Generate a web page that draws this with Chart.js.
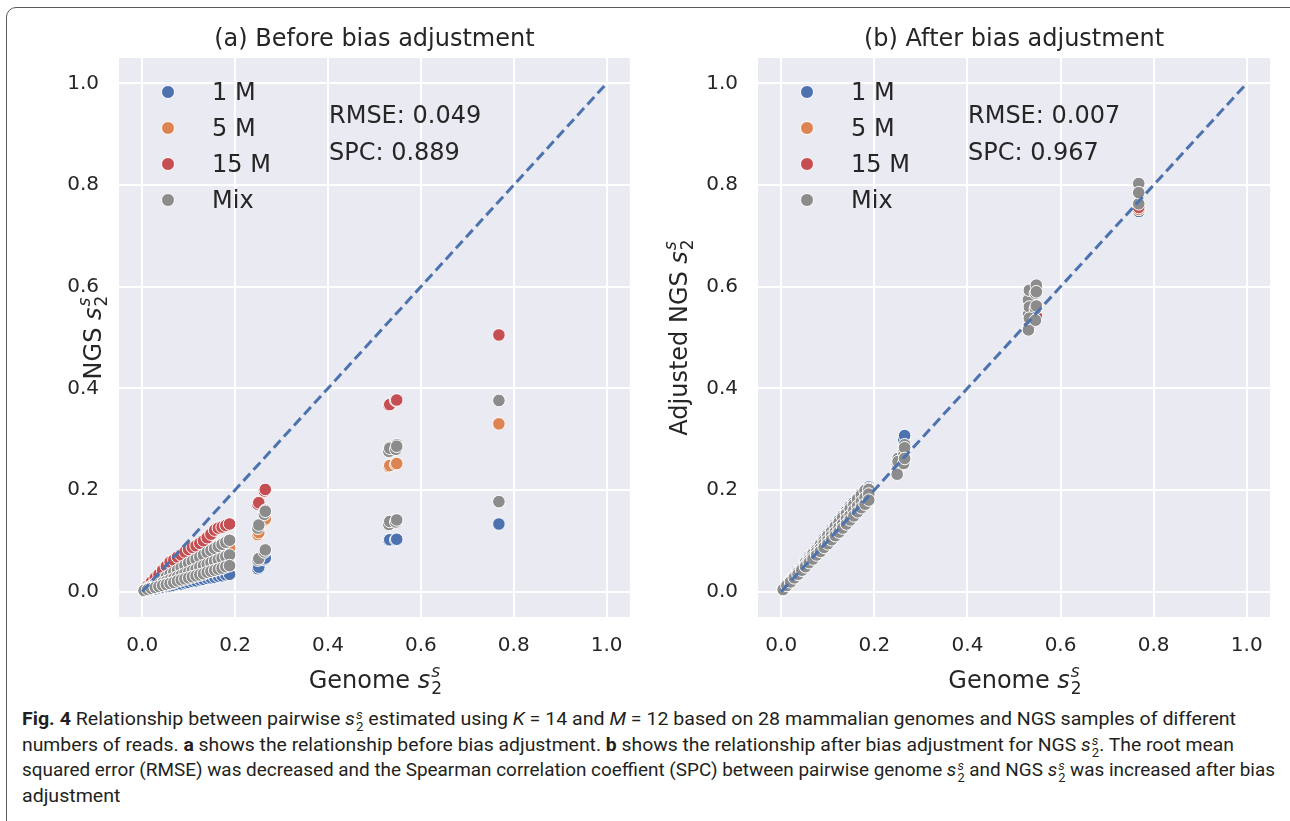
<!DOCTYPE html>
<html>
<head>
<meta charset="utf-8">
<script src="https://cdn.jsdelivr.net/npm/chart.js@4.4.0/dist/chart.umd.min.js"></script>
<style>
  html, body { margin: 0; padding: 0; background: #fff; overflow: hidden; }
  #figura { position: relative; width: 1290px; height: 821px; overflow: hidden; }
  #marco { position: absolute; left: 6px; top: 7px; width: 1310px; height: 850px; border: 1.5px solid #5a5a5a; border-radius: 10px; box-sizing: border-box; }
  canvas { position: absolute; top: 0; }
  #pie { position: absolute; left: 22px; top: 706px; font-family: "Liberation Sans Narrow", "Roboto", sans-serif; font-size: 18px; color: #231f20; }
  .linea { white-space: nowrap; height: 25.5px; line-height: 25.5px; transform-origin: left center; width: max-content; }
  .m { display: inline-block; font-size: 0.68em; line-height: 0.95em; vertical-align: -0.5em; margin-left: 1px; }
  .m span { display: block; }
</style>
</head>
<body>
<div id="figura">
  <div id="marco"></div>
  <canvas id="grafica-a" width="640" height="700" style="left:0"></canvas>
  <canvas id="grafica-b" width="650" height="700" style="left:640px"></canvas>
  <div id="pie">
    <div class="linea"><b>Fig. 4</b> Relationship between pairwise <i>s</i><span class="m"><span><i>s</i></span><span>2</span></span> estimated using <i>K</i> = 14 and <i>M</i> = 12 based on 28 mammalian genomes and NGS samples of different</div>
    <div class="linea">numbers of reads. <b>a</b> shows the relationship before bias adjustment. <b>b</b> shows the relationship after bias adjustment for NGS <i>s</i><span class="m"><span><i>s</i></span><span>2</span></span>. The root mean</div>
    <div class="linea">squared error (RMSE) was decreased and the Spearman correlation coeffient (SPC) between pairwise genome <i>s</i><span class="m"><span><i>s</i></span><span>2</span></span> and NGS <i>s</i><span class="m"><span><i>s</i></span><span>2</span></span> was increased after bias</div>
    <div class="linea">adjustment</div>
  </div>
</div>
<script>
// valores de genome s2 (eje x), compartidos por todas las muestras
const genomeX = [0.004, 0.012, 0.020, 0.028, 0.036, 0.044, 0.052, 0.060, 0.068, 0.076, 0.084, 0.092,
                 0.100, 0.108, 0.116, 0.124, 0.132, 0.140, 0.148, 0.156, 0.164, 0.172, 0.180, 0.188,
                 0.249, 0.251, 0.263, 0.265, 0.531, 0.533, 0.546, 0.548, 0.768];

// (a) antes del ajuste
const antes1M = [0.001, 0.003, 0.004, 0.005, 0.007, 0.008, 0.010, 0.011, 0.012, 0.014, 0.015, 0.017,
                 0.018, 0.020, 0.021, 0.023, 0.024, 0.026, 0.027, 0.028, 0.030, 0.031, 0.033, 0.034,
                 0.045, 0.048, 0.063, 0.066, 0.101, 0.102, 0.102, 0.103, 0.133];
const antes5M = [0.002, 0.006, 0.009, 0.013, 0.016, 0.020, 0.024, 0.027, 0.031, 0.034, 0.038, 0.042,
                 0.045, 0.049, 0.053, 0.056, 0.060, 0.063, 0.067, 0.071, 0.074, 0.078, 0.082, 0.086,
                 0.112, 0.116, 0.140, 0.143, 0.246, 0.248, 0.250, 0.252, 0.330];
const antes15M = [0.004, 0.011, 0.019, 0.027, 0.034, 0.042, 0.050, 0.058, 0.062, 0.068, 0.072, 0.078,
                  0.083, 0.087, 0.090, 0.095, 0.100, 0.106, 0.113, 0.121, 0.125, 0.127, 0.130, 0.133,
                  0.172, 0.175, 0.198, 0.201, 0.367, 0.368, 0.376, 0.377, 0.505];
const antesMixA = [0.003, 0.007, 0.011, 0.016, 0.020, 0.025, 0.029, 0.034, 0.038, 0.042, 0.047, 0.051,
                   0.056, 0.060, 0.064, 0.068, 0.072, 0.077, 0.081, 0.085, 0.089, 0.093, 0.097, 0.101,
                   0.127, 0.130, 0.155, 0.160, 0.280, 0.284, 0.285, 0.289, 0.378];
const antesMixB = [0.002, 0.004, 0.006, 0.008, 0.010, 0.012, 0.014, 0.016, 0.018, 0.021, 0.023, 0.025,
                   0.027, 0.029, 0.031, 0.033, 0.035, 0.038, 0.040, 0.042, 0.044, 0.046, 0.049, 0.051,
                   0.062, 0.065, 0.078, 0.082, 0.132, 0.138, 0.137, 0.141, 0.177];
const antesMixC = [0.002, 0.005, 0.008, 0.011, 0.014, 0.017, 0.020, 0.023, 0.026, 0.029, 0.032, 0.035,
                   0.038, 0.041, 0.044, 0.048, 0.051, 0.054, 0.057, 0.060, 0.063, 0.066, 0.069, 0.072,
                   0.125, 0.131, 0.152, 0.158, 0.276, 0.282, 0.280, 0.286, 0.376];

// (b) despues del ajuste
const despues1M = [0.005, 0.014, 0.023, 0.032, 0.041, 0.050, 0.059, 0.068, 0.077, 0.086, 0.095, 0.104,
                   0.113, 0.122, 0.131, 0.140, 0.149, 0.158, 0.167, 0.175, 0.184, 0.192, 0.200, 0.206,
                   0.245, 0.252, 0.300, 0.307, 0.525, 0.530, 0.545, 0.552, 0.748];
const despues5M = [0.004, 0.012, 0.021, 0.029, 0.038, 0.046, 0.055, 0.064, 0.073, 0.082, 0.090, 0.099,
                   0.108, 0.117, 0.126, 0.134, 0.143, 0.152, 0.160, 0.169, 0.178, 0.186, 0.194, 0.200,
                   0.240, 0.244, 0.262, 0.268, 0.520, 0.527, 0.540, 0.547, 0.752];
const despues15M = [0.005, 0.013, 0.022, 0.031, 0.040, 0.048, 0.057, 0.066, 0.075, 0.083, 0.092, 0.101,
                    0.110, 0.119, 0.128, 0.136, 0.145, 0.154, 0.163, 0.171, 0.180, 0.188, 0.197, 0.203,
                    0.236, 0.242, 0.258, 0.262, 0.516, 0.522, 0.536, 0.542, 0.756];
const despuesMixA = [0.003, 0.012, 0.022, 0.030, 0.039, 0.047, 0.057, 0.064, 0.074, 0.082, 0.092, 0.100,
                     0.110, 0.118, 0.128, 0.136, 0.146, 0.153, 0.163, 0.171, 0.182, 0.190, 0.199, 0.201,
                     0.250, 0.262, 0.276, 0.289, 0.574, 0.593, 0.587, 0.603, 0.803];
const despuesMixB = [0.004, 0.012, 0.019, 0.027, 0.034, 0.042, 0.049, 0.057, 0.064, 0.072, 0.079, 0.087,
                     0.094, 0.102, 0.110, 0.117, 0.125, 0.133, 0.141, 0.149, 0.157, 0.165, 0.172, 0.180,
                     0.231, 0.256, 0.252, 0.262, 0.515, 0.538, 0.534, 0.562, 0.785];
const despuesMixC = [0.005, 0.014, 0.020, 0.029, 0.037, 0.045, 0.052, 0.061, 0.068, 0.078, 0.085, 0.094,
                     0.101, 0.110, 0.117, 0.126, 0.133, 0.143, 0.150, 0.160, 0.168, 0.177, 0.185, 0.192,
                     0.241, 0.247, 0.268, 0.283, 0.545, 0.560, 0.556, 0.590, 0.763];

const nombres = ['1 M', '5 M', '15 M', 'Mix'];
const colores = ['#4C72B0', '#DD8452', '#C44E52', '#8C8C8C'];
const marcas = [0, 0.2, 0.4, 0.6, 0.8, 1.0];
const diagonal = [0, 1];

const TEXTO = '#262626';
const FUENTE = '"DejaVu Sans"';

function puntos(ys) {
    return genomeX.map((x, i) => ({ x: x, y: ys[i] }));
}

// etiqueta de eje con s^s_2
function etiqueta(ctx, texto, x, y, rotar) {
    ctx.save();
    ctx.translate(x, y);
    if (rotar) ctx.rotate(-Math.PI / 2);
    ctx.textAlign = 'left';
    ctx.textBaseline = 'alphabetic';
    ctx.fillStyle = TEXTO;
    ctx.font = '24px ' + FUENTE;
    const w1 = ctx.measureText(texto + ' ').width;
    ctx.font = 'italic 24px ' + FUENTE;
    const w2 = ctx.measureText('s').width;
    ctx.font = 'italic 17px ' + FUENTE;
    const w3 = ctx.measureText('s').width;
    let px = -(w1 + w2 + 1 + w3) / 2;
    ctx.font = '24px ' + FUENTE;
    ctx.fillText(texto + ' ', px, 0);
    px += w1;
    ctx.font = 'italic 24px ' + FUENTE;
    ctx.fillText('s', px, 0);
    px += w2 + 1;
    ctx.font = 'italic 17px ' + FUENTE;
    ctx.fillText('s', px, -11);
    ctx.font = '17px ' + FUENTE;
    ctx.fillText('2', px, 6);
    ctx.restore();
}

const decoracion = {
    id: 'decoracion',
    beforeDraw(chart, args, o) {
        const a = chart.chartArea, ctx = chart.ctx;
        ctx.save();
        ctx.fillStyle = '#EAEAF2';
        ctx.fillRect(a.left, a.top, a.right - a.left, a.bottom - a.top);
        ctx.restore();
    },
    afterDraw(chart, args, o) {
        const a = chart.chartArea, ctx = chart.ctx;
        ctx.save();
        ctx.fillStyle = TEXTO;
        ctx.font = '24px ' + FUENTE;
        ctx.textAlign = 'center';
        ctx.textBaseline = 'middle';
        ctx.fillText(o.titulo, (a.left + a.right) / 2, a.top - 18);

        // leyenda dentro del area
        ctx.textAlign = 'left';
        nombres.forEach((n, i) => {
            const y = a.top + 34 + i * 36;
            ctx.beginPath();
            ctx.arc(a.left + 49, y, 6.5, 0, Math.PI * 2);
            ctx.fillStyle = colores[i];
            ctx.fill();
            ctx.strokeStyle = '#fff';
            ctx.lineWidth = 1;
            ctx.stroke();
            ctx.fillStyle = TEXTO;
            ctx.fillText(n, a.left + 93, y + 2);
        });
        ctx.fillText('RMSE: ' + o.rmse, a.left + 210, a.top + 59);
        ctx.fillText('SPC: ' + o.spc, a.left + 210, a.top + 96);

        etiqueta(ctx, 'Genome', (a.left + a.right) / 2, a.bottom + 71, false);
        etiqueta(ctx, o.ylabel, a.left - o.yoff, (a.top + a.bottom) / 2 + 1, true);
        ctx.restore();
    }
};

function crearGrafica(id, serie1, serie2, serie3, mixA, mixB, mixC, opciones, anchoY, padDer) {
    const ctx = document.getElementById(id).getContext('2d');
    const punto = { pointRadius: 6.3, pointHoverRadius: 6.3, pointBorderColor: '#fff', pointBorderWidth: 1 };
    new Chart(ctx, {
        type: 'scatter',
        data: {
            datasets: [
                { type: 'line', label: 'y = x', data: diagonal.map(v => ({ x: v, y: v })),
                  borderColor: '#4C72B0', borderWidth: 3, borderDash: [10, 5], pointRadius: 0, fill: false, order: 0 },
                Object.assign({ label: nombres[3], data: puntos(mixA).concat(puntos(mixC), puntos(mixB)), backgroundColor: colores[3], order: 1 }, punto),
                Object.assign({ label: nombres[2], data: puntos(serie3), backgroundColor: colores[2], order: 2 }, punto),
                Object.assign({ label: nombres[1], data: puntos(serie2), backgroundColor: colores[1], order: 3 }, punto),
                Object.assign({ label: nombres[0], data: puntos(serie1), backgroundColor: colores[0], order: 4 }, punto)
            ]
        },
        options: {
            responsive: false,
            animation: false,
            devicePixelRatio: 1,
            events: [],
            layout: { padding: { left: 0, right: padDer, top: 58, bottom: 0 } },
            plugins: {
                legend: { display: false },
                tooltip: { enabled: false },
                decoracion: opciones
            },
            scales: {
                x: {
                    type: 'linear', min: -0.05, max: 1.05,
                    afterBuildTicks: s => { s.ticks = marcas.map(v => ({ value: v })); },
                    afterFit: s => { s.height = 83; },
                    grid: { color: '#fff', lineWidth: 2, drawTicks: false },
                    border: { display: false },
                    ticks: { padding: 17, color: TEXTO, font: { family: 'DejaVu Sans', size: 20 }, callback: v => v.toFixed(1) }
                },
                y: {
                    type: 'linear', min: -0.05, max: 1.05,
                    afterBuildTicks: s => { s.ticks = marcas.map(v => ({ value: v })); },
                    afterFit: s => { s.width = anchoY; },
                    grid: { color: '#fff', lineWidth: 2, drawTicks: false },
                    border: { display: false },
                    ticks: { padding: 20, color: TEXTO, font: { family: 'DejaVu Sans', size: 20 }, callback: v => v.toFixed(1) }
                }
            }
        },
        plugins: [decoracion]
    });
}

crearGrafica('grafica-a', antes1M, antes5M, antes15M, antesMixA, antesMixB, antesMixC,
    { titulo: '(a) Before bias adjustment', rmse: '0.049', spc: '0.889', ylabel: 'NGS', yoff: 18 }, 119, 10);
crearGrafica('grafica-b', despues1M, despues5M, despues15M, despuesMixA, despuesMixB, despuesMixC,
    { titulo: '(b) After bias adjustment', rmse: '0.007', spc: '0.967', ylabel: 'Adjusted NGS', yoff: 71 }, 118, 20);

// ajustar el ancho de cada linea del pie de figura
const anchos = [1214, 1212, 1253];
const lineas = document.querySelectorAll('#pie .linea');
let escala = 1;
lineas.forEach((l, i) => {
    const w = l.getBoundingClientRect().width;
    if (i < anchos.length) {
        const e = anchos[i] / w;
        if (i === 0) escala = e;
        l.style.transform = 'scaleX(' + e + ')';
    } else {
        l.style.transform = 'scaleX(' + escala + ')';
    }
});
</script>
</body>
</html>
